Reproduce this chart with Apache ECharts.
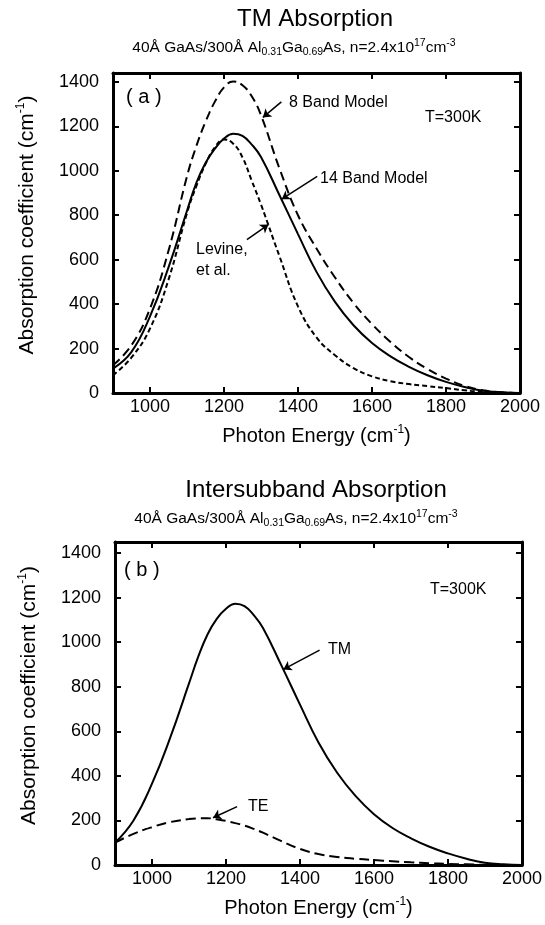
<!DOCTYPE html>
<html><head><meta charset="utf-8">
<script src="https://cdn.jsdelivr.net/npm/echarts@6/dist/echarts.min.js"></script>
<style>html,body{margin:0;padding:0;background:#fff}#c{width:545px;height:925px}</style>
</head><body><div id="c"></div>
<script>
// Photon energy grid (cm^-1)
const energy = [900, 950, 1000, 1050, 1100, 1125, 1150, 1175, 1200, 1225, 1250, 1275, 1300, 1350, 1400, 1450, 1500, 1550, 1600, 1650, 1700, 1750, 1800, 1850, 1900, 1950, 2000];
// Panel (a) TM absorption
const band8  = [125, 215, 380, 640, 975, 1110, 1220, 1310, 1375, 1402, 1385, 1335, 1250, 1010, 800, 650, 520, 405, 310, 230, 162, 108, 65, 32, 12, 3, 0];
const band14 = [110, 185, 345, 565, 820, 945, 1035, 1098, 1145, 1167, 1157, 1118, 1062, 890, 715, 545, 410, 305, 225, 165, 118, 80, 50, 27, 10, 3, 0];
const levine = [80, 160, 290, 510, 810, 930, 1030, 1105, 1141, 1122, 1060, 955, 848, 615, 390, 250, 170, 112, 75, 53, 40, 31, 22, 12, 5, 2, 0];
// Panel (b) intersubband absorption
const tmAbs = [100, 200, 365, 575, 815, 935, 1035, 1105, 1150, 1173, 1162, 1122, 1064, 895, 720, 550, 415, 310, 228, 166, 120, 82, 52, 28, 10, 3, 0];
const teAbs = [100, 140, 170, 193, 206, 209, 210, 205, 198, 188, 177, 162, 145, 107, 72, 49, 36, 28, 22, 17, 12, 8, 5, 3, 1, 0, 0];
// Tick labels
const xTicks = [1000, 1200, 1400, 1600, 1800, 2000];
const yTicks = [0, 200, 400, 600, 800, 1000, 1200, 1400];

const FONT = '"Liberation Sans", Arial, Helvetica, sans-serif';
const pairs = ys => energy.map((x, i) => [x, ys[i]]);
const axisLine = { show: true, onZero: false, lineStyle: { color: '#000', width: 3 } };
const tickStyle = { color: '#000', width: 2 };
const plain = v => String(v);
function nameStyle(size, extra) {
  return Object.assign({ fontSize: size, fontFamily: FONT, color: '#000', lineHeight: 24,
    rich: { sup: { fontSize: 12, fontFamily: FONT, color: '#000', verticalAlign: 'top', lineHeight: 24 } } }, extra || {});
}

function xAxesFor(g) {
  return [
    { type: 'value', gridIndex: g, min: 900, max: 2000, position: 'bottom', axisLine,
      axisTick: { show: true, inside: true, length: 6, lineStyle: tickStyle, customValues: xTicks },
      axisLabel: { customValues: xTicks, formatter: plain, color: '#000', fontSize: 18, fontFamily: FONT, margin: 5 },
      splitLine: { show: false },
      name: 'Photon Energy (cm{sup|-1})', nameLocation: 'middle', nameGap: 31, nameTextStyle: nameStyle(20) },
    { type: 'value', gridIndex: g, min: 900, max: 2000, position: 'top', axisLine,
      axisTick: { show: true, inside: true, length: 6, lineStyle: tickStyle, customValues: xTicks },
      axisLabel: { show: false }, splitLine: { show: false } }
  ];
}
function yAxesFor(g, ymax) {
  return [
    { type: 'value', gridIndex: g, min: 0, max: ymax, position: 'left', axisLine,
      axisTick: { show: true, inside: true, length: 6, lineStyle: tickStyle, customValues: yTicks },
      axisLabel: { customValues: yTicks, formatter: plain, color: '#000', fontSize: 18, fontFamily: FONT, margin: 14 },
      splitLine: { show: false },
      name: 'Absorption coefficient (cm{sup|-1})', nameLocation: 'middle', nameGap: 74,
      nameTextStyle: nameStyle(21, { padding: [0, 0, 0, 16] }) },
    { type: 'value', gridIndex: g, min: 0, max: ymax, position: 'right', axisLine,
      axisTick: { show: true, inside: true, length: 6, lineStyle: tickStyle, customValues: yTicks },
      axisLabel: { show: false }, splitLine: { show: false } }
  ];
}

function arrow(from, to) {
  return {
    silent: true, symbol: ['none', 'arrow'], symbolSize: 8, animation: false,
    lineStyle: { color: '#000', width: 1.5, type: 'solid' }, label: { show: false },
    data: [[{ coord: from }, { coord: to }]]
  };
}
function line(name, ys, xi, yi, dash, mark) {
  return {
    name, type: 'line', data: pairs(ys), xAxisIndex: xi, yAxisIndex: yi,
    showSymbol: false, smooth: 0.45, animation: false,
    lineStyle: { color: '#000', width: 2, type: dash },
    markLine: mark
  };
}

const subRich = {
  n: { fontSize: 15.5, fontWeight: 'normal', fontFamily: FONT, color: '#000', lineHeight: 20, verticalAlign: 'middle' },
  sub: { fontSize: 10.5, fontWeight: 'normal', fontFamily: FONT, color: '#000', lineHeight: 20, verticalAlign: 'bottom' },
  sup: { fontSize: 10.5, fontWeight: 'normal', fontFamily: FONT, color: '#000', lineHeight: 20, verticalAlign: 'top' }
};
const subText = '{n|40Å GaAs/300Å Al}{sub|0.31}{n|Ga}{sub|0.69}{n|As, n=2.4x10}{sup|17}{n|cm}{sup|-3}';

function txt(x, y, text, size) {
  return { type: 'text', x, y, silent: true,
    style: { text, fill: '#000', font: size + 'px ' + FONT, textAlign: 'left', textVerticalAlign: 'middle' } };
}

const chart = echarts.init(document.getElementById('c'), null, { renderer: 'canvas' });
chart.setOption({
  backgroundColor: '#fff',
  animation: false,
  title: [
    { text: 'TM Absorption', left: 315, top: 7, textAlign: 'center', padding: 0,
      textStyle: { fontSize: 24, fontWeight: 'normal', color: '#000', fontFamily: FONT } },
    { text: subText, left: 294, top: 38, textAlign: 'center', padding: 0, textStyle: { fontWeight: 'normal', rich: subRich } },
    { text: 'Intersubband Absorption', left: 316, top: 478, textAlign: 'center', padding: 0,
      textStyle: { fontSize: 24, fontWeight: 'normal', color: '#000', fontFamily: FONT } },
    { text: subText, left: 296, top: 509, textAlign: 'center', padding: 0, textStyle: { fontWeight: 'normal', rich: subRich } }
  ],
  grid: [
    { left: 113, right: 25, top: 73, height: 320 },
    { left: 115, right: 22, top: 542, height: 323 }
  ],
  xAxis: [...xAxesFor(0), ...xAxesFor(1)],
  yAxis: [...yAxesFor(0, 1440), ...yAxesFor(1, 1450)],
  series: [
    line('8 Band Model', band8, 0, 0, [9, 5], arrow([1355, 1310], [1305, 1240])),
    line('14 Band Model', band14, 0, 0, 'solid', arrow([1452, 975], [1356, 872])),
    line('Levine, et al.', levine, 0, 0, [5, 3], arrow([1262, 690], [1320, 758])),
    line('TM', tmAbs, 2, 2, 'solid', arrow([1453, 965], [1355, 878])),
    line('TE', teAbs, 2, 2, [10, 5], arrow([1230, 262], [1165, 212]))
  ],
  graphic: [
    txt(126, 97, '( a )', 20),
    txt(289, 103, '8 Band Model', 16),
    txt(425, 118, 'T=300K', 16),
    txt(320, 179, '14 Band Model', 16),
    txt(196, 250, 'Levine,', 16),
    txt(196, 271, 'et al.', 16),
    txt(124, 570, '( b )', 20),
    txt(430, 590, 'T=300K', 16),
    txt(328, 650, 'TM', 16),
    txt(248, 807, 'TE', 16)
  ]
});
</script>
</body></html>
